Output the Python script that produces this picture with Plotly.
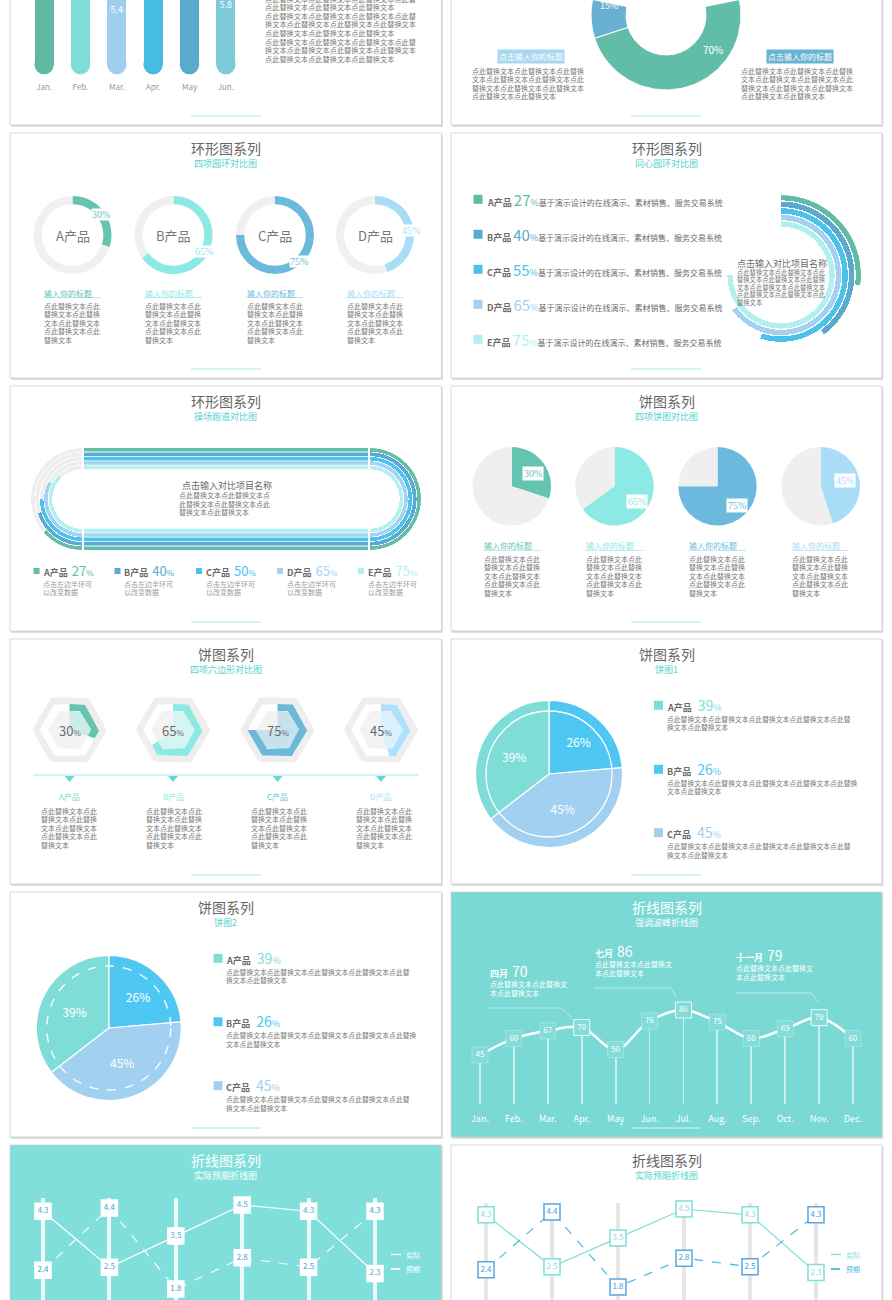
import numpy as np
import plotly.graph_objects as go

W, H = 892, 1300
SANS = "Noto Sans CJK SC, Noto Sans, sans-serif"
SERIF = "Liberation Serif, DejaVu Serif, serif"
GRAY_TXT = "#7a7a7a"
TITLE_TXT = "#666666"
SUB_TEAL = "#55d3cc"

# ---------------- data ----------------
bar_months = ["Jan.", "Feb.", "Mar.", "Apr.", "May", "Jun."]
bar_values = [6.3, 6.6, 5.4, 7.1, 6.8, 5.8]
bar_colors = ["#5fb9a2", "#7fdcd6", "#9fcfee", "#45bce3", "#5aaacb", "#7dcad9"]

donut_labels = ["右侧标题", "左侧标题", "其他"]
donut_values = [70, 15, 15]
donut_colors = ["#62bda8", "#68b1d2", "#a7d7f1"]

ring_names = ["A产品", "B产品", "C产品", "D产品"]
ring_values = [30, 65, 75, 45]
ring_colors = ["#65c4b0", "#8ce9e3", "#6bbadd", "#a9dcf7"]

conc_names = ["A产品", "B产品", "C产品", "D产品", "E产品"]
conc_values = [27, 40, 55, 65, 75]
conc_colors = ["#5fbda7", "#5aaad0", "#4bc2ea", "#a4d1f1", "#b1f0ef"]

track_names = ["A产品", "B产品", "C产品", "D产品", "E产品"]
track_values = [27, 40, 50, 65, 75]
track_colors = ["#62bea8", "#5aabd2", "#4cc3ec", "#a5d2f0", "#b3f1f0"]

pie4_names = ["A产品", "B产品", "C产品", "D产品"]
pie4_values = [30, 65, 75, 45]
pie4_colors = ["#65c4b0", "#8ce9e3", "#6bbadd", "#a9dcf7"]

hex_names = ["A产品", "B产品", "C产品", "D产品"]
hex_values = [30, 65, 75, 45]
hex_colors = ["#65c4b0", "#8ce9e3", "#6bb8d8", "#aee0fb"]
hex_pale = ["#cdece5", "#d4f5f2", "#c8e2ed", "#daf0fc"]
hex_label_colors = ["#7dd6cf", "#8ce9e3", "#6bbadd", "#a9dcf7"]

share_names = ["A产品", "B产品", "C产品"]
share_values = [39, 26, 45]
share_colors = ["#7fddd8", "#4ec8f2", "#a2d0f0"]
share_pie_order = [1, 2, 0]  # slices drawn B, C, A from 12 o'clock

wave_months = ["Jan.", "Feb.", "Mar.", "Apr.", "May", "Jun.", "Jul.", "Aug.", "Sep.", "Oct.", "Nov.", "Dec."]
wave_values = [45, 60, 67, 70, 50, 76, 86, 75, 60, 69, 79, 60]
wave_peak_months = ["Apr.", "Jul.", "Nov."]
wave_peak_names = ["四月", "七月", "十一月"]

ae_periods = ["一", "二", "三", "四", "五", "六"]
ae_actual = [4.3, 2.5, 3.5, 4.5, 4.3, 2.3]
ae_expected = [2.4, 4.4, 1.8, 2.8, 2.5, 4.3]

# ---------------- helpers ----------------
fig = go.Figure()
layout = {}
shapes, annots = [], []
axis_n = [0]
polar_n = [0]


def X(px):
    return px / W


def Y(py):
    return 1 - py / H


def cart(x0, x1, y0, y1, xr, yr, xkw=None, ykw=None):
    axis_n[0] += 1
    n = axis_n[0]
    s = "" if n == 1 else str(n)
    xk = dict(domain=[max(0, X(x0)), min(1, X(x1))], range=xr, visible=False, fixedrange=True,
              anchor="y" + s, showgrid=False, zeroline=False)
    yk = dict(domain=[max(0, Y(y1)), min(1, Y(y0))], range=yr, visible=False, fixedrange=True,
              anchor="x" + s, showgrid=False, zeroline=False)
    if xkw:
        xk.update(xkw)
    if ykw:
        yk.update(ykw)
    layout["xaxis" + s] = xk
    layout["yaxis" + s] = yk
    return "x" + s, "y" + s


def polar(x0, x1, y0, y1, sector, rotation, direction, rmax):
    polar_n[0] += 1
    n = polar_n[0]
    s = "" if n == 1 else str(n)
    layout["polar" + s] = dict(
        domain=dict(x=[X(x0), X(x1)], y=[max(0, Y(y1)), min(1, Y(y0))]),
        sector=sector, bgcolor="rgba(0,0,0,0)",
        angularaxis=dict(visible=False, rotation=rotation, direction=direction, showgrid=False,
                         showline=False, ticks=""),
        radialaxis=dict(visible=False, range=[0, rmax], showgrid=False, showline=False, ticks=""))
    return "polar" + s


def pie_domain(cx, cy, r):
    return dict(x=[X(cx - r), X(cx + r)], y=[Y(cy + r), Y(cy - r)])


def txt(x, y, s, size=7, color=GRAY_TXT, xa="left", ya="middle", family=SANS, **kw):
    d = dict(x=X(x), y=Y(y), xref="paper", yref="paper", text=s, showarrow=False,
             xanchor=xa, yanchor=ya, font=dict(size=size, color=color, family=family), borderpad=0)
    d.update(kw)
    annots.append(d)


def para(x, y0, dy, arr, size=7, color=GRAY_TXT, xa="left"):
    for i, s in enumerate(arr):
        txt(x, y0 + i * dy, s, size, color, xa)


def rect(x0, y0, x1, y1, fill, line=None, lw=0, layer="below"):
    shapes.append(dict(type="rect", xref="paper", yref="paper", x0=X(x0), x1=X(x1), y0=Y(y1), y1=Y(y0),
                       fillcolor=fill, line=dict(color=line or fill, width=lw), layer=layer))


def seg(x0, y0, x1, y1, color, width=1, dash="solid", layer="above"):
    shapes.append(dict(type="line", xref="paper", yref="paper", x0=X(x0), x1=X(x1), y0=Y(y0), y1=Y(y1),
                       line=dict(color=color, width=width, dash=dash), layer=layer))


def poly(points, color, width=1, fill=None, layer="above"):
    p = "M " + " L ".join(f"{X(a):.5f},{Y(b):.5f}" for a, b in points)
    if fill:
        p += " Z"
    shapes.append(dict(type="path", xref="paper", yref="paper", path=p,
                       line=dict(color=color, width=width), fillcolor=fill or "rgba(0,0,0,0)", layer=layer))


def circle(cx, cy, r, color, width=1, dash="solid"):
    shapes.append(dict(type="circle", xref="paper", yref="paper", x0=X(cx - r), x1=X(cx + r),
                       y0=Y(cy + r), y1=Y(cy - r), line=dict(color=color, width=width, dash=dash),
                       fillcolor="rgba(0,0,0,0)", layer="above"))


P8 = ["点此替换文本点此", "替换文本点此替换", "文本点此替换文本", "点此替换文本点此", "替换文本"]

# ---------------- panels ----------------
COLS = [(10, 441.5), (451, 882)]
ROW_TOP = [-120, 133, 386, 639, 892, 1145]
PH = 245
TEAL_PANEL = {(4, 1): "#7ad9d4", (5, 0): "#80dfda"}
TITLES = {
    (1, 0): ("环形图系列", "四项圆环对比图"), (1, 1): ("环形图系列", "同心圆环对比图"),
    (2, 0): ("环形图系列", "操场跑道对比图"), (2, 1): ("饼图系列", "四项饼图对比图"),
    (3, 0): ("饼图系列", "四项六边形对比图"), (3, 1): ("饼图系列", "饼图1"),
    (4, 0): ("饼图系列", "饼图2"), (4, 1): ("折线图系列", "强调波峰折线图"),
    (5, 0): ("折线图系列", "实际预期折线图"), (5, 1): ("折线图系列", "实际预期折线图"),
}
for r in range(6):
    for c in range(2):
        x0, x1 = COLS[c]
        y0 = ROW_TOP[r]
        y1 = y0 + PH
        fill = TEAL_PANEL.get((r, c), "#ffffff")
        rect(x0 + 1, y0 + 1.5, x1 + 1.2, y1 + 1.8, "#d6d6d6")
        rect(x0, y0, x1, y1, fill, "#cfcfcf", 0.8)
        cx = (x0 + x1) / 2
        teal = (r, c) in TEAL_PANEL
        if (r, c) in TITLES:
            t, st = TITLES[(r, c)]
            txt(cx, y0 + 15, t, 14, "#ffffff" if teal else TITLE_TXT, "center")
            txt(cx, y0 + 30, st, 9, "#ffffff" if teal else SUB_TEAL, "center")
        bx0 = 191 if c == 0 else 631
        seg(bx0, y1 - 9, bx0 + 70, y1 - 9, "rgba(255,255,255,0.7)" if teal else "#a8e8e4", 1)

# ---------------- row 0 left: pill bars ----------------
PX_PER = 13.7
base_u = 9.5 / PX_PER
bar_top = 74 / PX_PER
lab_off = 11 / PX_PER
xa, ya = cart(26, 244, 0, 74, [-0.5, 5.5], [0, bar_top],
              xkw=dict(visible=True, showline=False, ticks="", showticklabels=True,
                       tickfont=dict(size=8, color="#999999", family=SANS), ticklabelstandoff=7))
fig.add_trace(go.Bar(x=bar_months, y=[v - base_u for v in bar_values], base=base_u, width=0.53,
                     marker=dict(color=bar_colors, line=dict(width=0)),
                     xaxis=xa, yaxis=ya, hoverinfo="skip"))
fig.add_trace(go.Scatter(x=bar_months, y=[base_u] * len(bar_months), mode="markers",
                         marker=dict(size=19.5, color=bar_colors, line=dict(width=0)),
                         cliponaxis=False, xaxis=xa, yaxis=ya, hoverinfo="skip"))
fig.add_trace(go.Scatter(x=bar_months, y=[v - lab_off for v in bar_values], mode="text",
                         text=[f"{v}" if v - lab_off < bar_top - 0.4 else "" for v in bar_values],
                         textposition="middle center",
                         textfont=dict(color="white", size=9), cliponaxis=True,
                         xaxis=xa, yaxis=ya, hoverinfo="skip"))
top_lines = ["点此替换文本点此替换文本点此替换文本点此替", "点此替换文本点此替换文本点此替换文本",
             "点此替换文本点此替换文本点此替换文本点此替", "换文本点此替换文本点此替换文本点此替换文本",
             "点此替换文本点此替换文本点此替换文本", "点此替换文本点此替换文本点此替换文本点此替",
             "换文本点此替换文本点此替换文本点此替换文本", "点此替换文本点此替换文本点此替换文本"]
para(264, -1.5, 8.6, top_lines, 7.2)

# ---------------- row 0 right: cut donut ----------------
pol = polar(591, 741, 0, 90, [-191.54, 11.54], 90, "clockwise", 75)
dv = np.array(donut_values, dtype=float)
dw = dv / dv.sum() * 360
dstart = np.concatenate([[0], np.cumsum(dw)[:-1]])
fig.add_trace(go.Barpolar(r=[35] * len(dv), base=[40] * len(dv), theta=dstart + dw / 2, width=dw,
                          marker=dict(color=donut_colors, line=dict(color="white", width=1)),
                          subplot=pol, hoverinfo="skip"))
txt(713, 49, f"{donut_values[0]}%", 10, "white", "center")
txt(609, 6, f"{donut_values[1]}%", 9, "white", "center")
P16 = ["点此替换文本点此替换文本点此替换", "文本点此替换文本点此替换文本点此",
       "替换文本点此替换文本点此替换文本", "点此替换文本点此替换文本"]
txt(531, 56, "点击输入你的标题", 8, "white", "center", bgcolor="#a7d8f2", borderpad=1)
txt(800, 56, "点击输入你的标题", 8, "white", "center", bgcolor="#68b2d3", borderpad=1)
para(471, 71, 8.5, P16, 7)
para(740, 71, 8.5, P16, 7)

# ---------------- row 1 left: four rings ----------------
ring_cx = [72.5, 173.5, 275, 375]
ring_lab_off = [(28.5, -21), (30, 17), (24, 26), (36, -5)]
for i, (n, v, c) in enumerate(zip(ring_names, ring_values, ring_colors)):
    cx = ring_cx[i]
    fig.add_trace(go.Pie(values=[v, 100 - v], labels=[n, n + "其余"], sort=False, direction="clockwise",
                         rotation=0, hole=0.79, textinfo="none", hoverinfo="skip",
                         marker=dict(colors=[c, "#f0f0f0"], line=dict(width=0)),
                         domain=pie_domain(cx, 235, 39)))
    txt(cx, 235, n, 13, "#777777", "center")
    dx, dy = ring_lab_off[i]
    txt(cx + dx, 235 + dy, f"{v}%", 10, c, "center", family=SERIF, bgcolor="white")
    tx = cx - 29.5
    txt(tx, 293, "输入你的标题", 8, c)
    seg(tx, 297.5, tx + 58, 297.5, "#bfe9f3", 1)
    para(tx, 305.5, 8.6, P8, 7)

# ---------------- row 1 right: concentric rings ----------------
pol = polar(701, 861, 195, 355, [0, 360], 90, "clockwise", 80)
cv = np.array(conc_values, dtype=float)
fig.add_trace(go.Barpolar(r=[5.3] * 5, base=[80 - 5.3 - 6.6 * i for i in range(5)],
                          theta=cv * 3.6 / 2, width=cv * 3.6,
                          marker=dict(color=conc_colors, line=dict(width=0)), subplot=pol,
                          hoverinfo="skip"))
conc_y = [199.3, 234.3, 269.3, 304.3, 339.3]
for i, (n, v, c) in enumerate(zip(conc_names, conc_values, conc_colors)):
    y = conc_y[i]
    rect(473.5, y - 4.5, 482.5, y + 4.5, c, layer="above")
    txt(486, y, f"<b>{n}</b> <span style='font-size:15px;color:{c}'>{v}</span>"
                f"<span style='font-size:9px;color:{c}'>%</span>"
                f"<span style='font-size:8px'>基于演示设计的在线演示、素材销售、服务交易系统</span>",
        9, "#6a6a6a")
txt(736, 264, "点击输入对比项目名称", 9, "#6a6a6a")
para(736, 272, 7.5, ["点此替换文本点此替换文本点此", "替换文本点此替换文本点此替换", "文本点此替换文本点此替换文本",
                     "点此替换文本点此替换文本点此", "替换文本"], 6.3)

# ---------------- row 2 left: race track ----------------
TR_R, TR_T, TR_P = 51, 3.6, 4.4
for i, c in enumerate(track_colors):
    rect(84, 448 + i * TR_P, 368, 448 + i * TR_P + TR_T, c, layer="above")
    rect(84, 550 - i * TR_P - TR_T, 368, 550 - i * TR_P, c, layer="above")
tv = np.array(track_values, dtype=float)
bases = [TR_R - TR_T - TR_P * i for i in range(5)]
pol = polar(31, 82, 448, 550, [90, 270], 270, "clockwise", TR_R)
fig.add_trace(go.Barpolar(r=[TR_T] * 5, base=bases, theta=[90] * 5, width=[180] * 5,
                          marker=dict(color="#eeeeee", line=dict(width=0)), subplot=pol, hoverinfo="skip"))
fig.add_trace(go.Barpolar(r=[TR_T] * 5, base=bases, theta=tv * 1.8 / 2, width=tv * 1.8,
                          marker=dict(color=track_colors, line=dict(width=0)), subplot=pol, hoverinfo="skip"))
pol = polar(370, 421, 448, 550, [-90, 90], 270, "counterclockwise", TR_R)
fig.add_trace(go.Barpolar(r=[TR_T] * 5, base=bases, theta=[90] * 5, width=[180] * 5,
                          marker=dict(color=track_colors, line=dict(width=0)), subplot=pol, hoverinfo="skip"))
txt(226.7, 485, "点击输入对比项目名称", 9, "#6a6a6a", "center")
para(178, 495, 8.5, ["点此替换文本点此替换文本点", "此替换文本点此替换文本点此", "替换文本点此替换文本"], 7)
track_lx = [33.5, 114.5, 196, 277, 358]
for i, (n, v, c) in enumerate(zip(track_names, track_values, track_colors)):
    lx = track_lx[i]
    rect(lx, 568, lx + 6, 574, c, layer="above")
    txt(lx + 8.5, 570.5, f"<b>{n}</b>  <span style='font-size:13px;color:{c}'>{v}</span>"
                         f"<span style='font-size:8px;color:{c}'>%</span>", 9, "#6a6a6a")
    para(lx + 8.5, 584, 8.3, ["点击左边半环可", "以改变数据"], 7, "#9a9a9a")

# ---------------- row 2 right: four pies ----------------
pie4_cx = [511.8, 614.5, 717.5, 820.7]
pie4_off = [(21, -13), (22.5, 15), (19.5, 19), (24.5, -6)]
for i, (n, v, c) in enumerate(zip(pie4_names, pie4_values, pie4_colors)):
    cx = pie4_cx[i]
    fig.add_trace(go.Pie(values=[v, 100 - v], labels=[n, n + "其余"], sort=False, direction="clockwise",
                         rotation=0, textinfo="none", hoverinfo="skip",
                         marker=dict(colors=[c, "#efefef"], line=dict(width=0)),
                         domain=pie_domain(cx, 486.3, 39.2)))
    dx, dy = pie4_off[i]
    txt(cx + dx, 486.3 + dy, f"{v}%", 10, c, "center", family=SERIF, bgcolor="white", borderpad=1)
    tx = [483, 585, 688, 791][i]
    txt(tx, 546, "输入你的标题", 8, c)
    seg(tx, 550.5, tx + 58, 550.5, "#bfe9f3", 1)
    para(tx, 558.5, 8.6, P8, 7)

# ---------------- row 3 left: hexagons ----------------
def hex_pts(a, phis):
    d = np.radians((phis % 60) - 30)
    rr = a / np.cos(d)
    t = np.radians(phis)
    return rr * np.cos(t), rr * np.sin(t)


def sweep(frac):
    end = 90 - 360 * frac
    ph = np.linspace(90, end, 721)
    verts = [v for v in range(-360, 181, 60) if end < v < 90]
    return np.sort(np.concatenate([ph, verts]))[::-1]


def band(a_in, a_out, frac):
    ph = sweep(frac)
    xo, yo = hex_pts(a_out, ph)
    xi, yi = hex_pts(a_in, ph[::-1])
    return np.concatenate([xo, xi, xo[:1]]), np.concatenate([yo, yi, yo[:1]])


def wedge(a, frac):
    ph = sweep(frac)
    xi, yi = hex_pts(a, ph)
    return np.concatenate([[0], xi, [0]]), np.concatenate([[0], yi, [0]])


hex_cx = [69.5, 173, 277.5, 381]
HEX_CY = 730
for i, (n, v, c) in enumerate(zip(hex_names, hex_values, hex_colors)):
    cx = hex_cx[i]
    xa, ya = cart(cx - 40, cx + 40, HEX_CY - 40, HEX_CY + 40, [-40, 40], [-40, 40])
    for (xs, ys), col in [(band(26, 32.5, 1.0), "#eeeeee"), (wedge(19, 1.0), "#f3f3f3"),
                          (wedge(19, v / 100), hex_pale[i]), (band(19, 26, v / 100), c)]:
        fig.add_trace(go.Scatter(x=xs, y=ys, mode="lines", fill="toself", fillcolor=col,
                                 line=dict(width=0, color=col), xaxis=xa, yaxis=ya, hoverinfo="skip"))
    txt(cx, HEX_CY, f"{v}<span style='font-size:8px'>%</span>", 13, "#6a6a6a", "center")
    poly([(cx - 5, 776), (cx + 5, 776), (cx, 782)], "#6ad6d0", 0, fill="#6ad6d0")
    txt(cx, 796, n, 8, hex_label_colors[i], "center")
    para([40, 145, 250, 355][i], 810.5, 8.6, P8, 7)
seg(33, 775, 419, 775, "#a8e6e2", 1)

# ---------------- row 3 right / row 4 left: share pies ----------------
share_order_vals = [share_values[k] for k in share_pie_order]
share_order_cols = [share_colors[k] for k in share_pie_order]
share_order_names = [share_names[k] for k in share_pie_order]
for (pcx, pcy, pr, cr, dash) in [(549, 774, 73.5, 63, "solid"), (108.8, 1028, 72.5, 62, "dash")]:
    fig.add_trace(go.Pie(values=share_order_vals, labels=share_order_names, sort=False,
                         direction="clockwise", rotation=0, text=[f"{v}%" for v in share_order_vals],
                         textinfo="text", textposition="inside", insidetextorientation="horizontal",
                         textfont=dict(color="white", size=12, family=SANS), hoverinfo="skip",
                         marker=dict(colors=share_order_cols, line=dict(color="white", width=1.2)),
                         domain=pie_domain(pcx, pcy, pr)))
    circle(pcx, pcy, cr, "white", 1.3, dash)

share_lines = [["点此替换文本点此替换文本点此替换文本点此替换文本点此替", "换文本点此替换文本"],
               ["点此替换文本点此替换文本点此替换文本点此替换文本点此替换", "文本点此替换文本"],
               ["点此替换文本点此替换文本点此替换文本点此替换文本点此替", "换文本点此替换文本"]]
for (sx, sys_) in [(654, [705.3, 769.3, 832.7]), (213.5, [958.3, 1021.7, 1085.7])]:
    for i, (n, v, c) in enumerate(zip(share_names, share_values, share_colors)):
        y = sys_[i]
        rect(sx, y - 4.5, sx + 9, y + 4.5, c, layer="above")
        txt(sx + 12, y - 0.5, f"<b>{n}</b>   <span style='font-size:14px;color:{c}'>{v}</span>"
                              f"<span style='font-size:9px;color:{c}'>%</span>", 9, "#6a6a6a")
        para(sx + 11.5, y + 13.5, 8.6, share_lines[i], 6.8)

# ---------------- row 4 right: wave line ----------------
xa, ya = cart(463, 870, 1000, 1104.4, [-0.5, 11.5], [0, 95.1],
              xkw=dict(visible=True, showline=False, ticks="", showticklabels=True,
                       tickfont=dict(size=9, color="white", family=SANS), ticklabelstandoff=8))
fig.add_trace(go.Bar(x=wave_months, y=wave_values, width=0.055,
                     marker=dict(color="rgba(255,255,255,0.6)", line=dict(width=0)),
                     xaxis=xa, yaxis=ya, hoverinfo="skip"))
fig.add_trace(go.Scatter(x=wave_months, y=wave_values, mode="lines", line=dict(color="white", width=2.5,
                         shape="spline", smoothing=1.0), xaxis=xa, yaxis=ya, hoverinfo="skip"))
edge = ["rgba(255,255,255,0.85)" if m in wave_peak_months else "rgba(255,255,255,0.25)" for m in wave_months]
fig.add_trace(go.Scatter(x=wave_months, y=wave_values, mode="markers+text",
                         marker=dict(symbol="square", size=16, color="#82dcd7", line=dict(color=edge, width=1)),
                         text=[str(v) for v in wave_values], textposition="middle center",
                         textfont=dict(color="white", size=8), xaxis=xa, yaxis=ya, hoverinfo="skip",
                         cliponaxis=False))
peak_pos = [(489, 971, [(489, 1008), (561, 1008), (571, 1017)]),
            (594, 951, [(594, 988), (671, 988), (677, 998)]),
            (735, 955, [(735, 993), (812, 993), (818, 1002)])]
for (px, py, lead), m, nm in zip(peak_pos, wave_peak_months, wave_peak_names):
    v = wave_values[wave_months.index(m)]
    txt(px, py, f"<b>{nm}</b>  <span style='font-size:14px'>{v}</span>", 9, "white")
    para(px, py + 13, 8.6, ["点此替换文本点此替换文", "本点此替换文本"], 7, "white")
    poly(lead, "rgba(255,255,255,0.6)", 0.8)

# ---------------- row 5: actual vs expected ----------------
for (x0, x1, ytop, yr, grid, line_a, line_e, face, edge_a, edge_e, tcol_a, tcol_e, lx, ltxt) in [
    (9.8, 408.2, 1198, [1.445, 4.725], "rgba(255,255,255,0.85)", "white", "rgba(255,255,255,0.9)",
     "white", "white", "white", "#4aaedf", "#3a9fd8", 391, "white"),
    (453, 849, 1203, [1.351, 4.708], "#e6e6e6", "#7ddfd8", "#4eb5e6",
     "white", "#7fe0d8", "#5aa5dc", "#7fdfd9", "#3a9fe0", 831, None)]:
    xa, ya = cart(x0, x1, ytop, 1300, [-0.5, 5.5], yr,
                  xkw=dict(visible=True, showgrid=True, gridcolor=grid, gridwidth=4, showticklabels=False,
                           ticks="", showline=False, zeroline=False))
    fig.add_trace(go.Scatter(x=ae_periods, y=ae_actual, mode="lines", line=dict(color=line_a, width=1.2),
                             xaxis=xa, yaxis=ya, hoverinfo="skip"))
    fig.add_trace(go.Scatter(x=ae_periods, y=ae_expected, mode="lines",
                             line=dict(color=line_e, width=1.2, dash="dash"), xaxis=xa, yaxis=ya,
                             hoverinfo="skip"))
    for vals, ec, tc in [(ae_actual, edge_a, tcol_a), (ae_expected, edge_e, tcol_e)]:
        fig.add_trace(go.Scatter(x=ae_periods, y=vals, mode="markers+text",
                                 marker=dict(symbol="square", size=16, color=face, line=dict(color=ec, width=1.5)),
                                 text=[f"{v}" for v in vals], textposition="middle center",
                                 textfont=dict(color=tc, size=8), xaxis=xa, yaxis=ya, hoverinfo="skip",
                                 cliponaxis=False))
    ca = ltxt or line_a
    ce = ltxt or line_e
    seg(lx, 1254.5, lx + 10, 1254.5, ca, 1.2)
    txt(lx + 14, 1254.5, "实际", 7, ca)
    seg(lx, 1269, lx + 10, 1269, ce, 1.8, "dash")
    txt(lx + 14, 1269, "预期", 7, ce)

layout.update(dict(width=W, height=H, margin=dict(l=0, r=0, t=0, b=0), paper_bgcolor="#ffffff",
                   plot_bgcolor="rgba(0,0,0,0)", showlegend=False, font=dict(family=SANS),
                   shapes=shapes, annotations=annots, bargap=0))
fig.update_layout(**layout)
fig.write_html("out.html", config={"displayModeBar": False, "staticPlot": True},
               post_script="document.body.style.margin='0px';document.body.style.padding='0px';"
                           "document.documentElement.style.overflow='hidden';")
